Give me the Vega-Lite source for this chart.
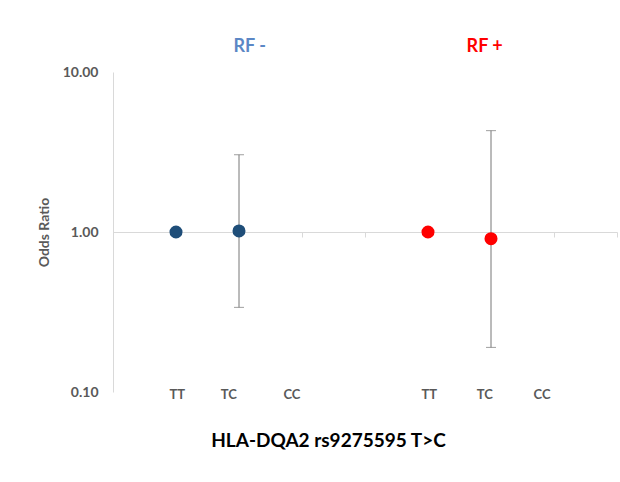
{
  "$schema": "https://vega.github.io/schema/vega-lite/v6.json",
  "width": 504,
  "height": 320,
  "autosize": {"type": "none"},
  "padding": {"left": 113, "top": 72, "right": 3, "bottom": 90},
  "background": "white",
  "config": {"font": "Lato", "view": {"stroke": null}},
  "datasets": {
    "pts": [
      {"group": "RF -", "genotype": "TT", "pos": 1, "or": 1.0},
      {"group": "RF -", "genotype": "TC", "pos": 2, "or": 1.015, "lo": 0.338, "hi": 3.04},
      {"group": "RF +", "genotype": "TT", "pos": 5, "or": 1.0},
      {"group": "RF +", "genotype": "TC", "pos": 6, "or": 0.908, "lo": 0.19, "hi": 4.3}
    ],
    "cats": [
      {"label": "TT", "pos": 1.02, "y": 0.1},
      {"label": "TC", "pos": 1.84, "y": 0.1},
      {"label": "CC", "pos": 2.84, "y": 0.1},
      {"label": "TT", "pos": 5.02, "y": 0.1},
      {"label": "TC", "pos": 5.9, "y": 0.1},
      {"label": "CC", "pos": 6.81, "y": 0.1}
    ],
    "heads": [
      {"label": "RF -", "group": "RF -", "pos": 2.17, "y": 14.3},
      {"label": "RF +", "group": "RF +", "pos": 5.9, "y": 14.3}
    ]
  },
  "layer": [
    {
      "data": {"name": "pts"},
      "transform": [{"filter": "isValid(datum.lo)"}],
      "mark": {"type": "rule", "color": "#767676", "strokeWidth": 1},
      "encoding": {
        "x": {
          "field": "pos", "type": "quantitative",
          "scale": {"domain": [0, 8], "nice": false, "zero": false},
          "axis": {
            "orient": "bottom", "offset": -160, "values": [0, 1, 2, 3, 4, 5, 6, 7, 8],
            "labels": false, "tickSize": 5, "tickColor": "#d9d9d9", "domainColor": "#d9d9d9",
            "grid": false,
            "title": "HLA-DQA2 rs9275595 T>C", "titleX": 215, "titleY": 208,
            "titleBaseline": "middle", "titleAlign": "center", "titleAnchor": null,
            "titleFontSize": 19, "titleFontWeight": "bold", "titleColor": "#000000"
          }
        },
        "y": {
          "field": "lo", "type": "quantitative",
          "scale": {"type": "log", "domain": [0.1, 10], "nice": false},
          "axis": {
            "values": [0.1, 1, 10], "format": ".2f", "ticks": false, "grid": false,
            "domainColor": "#d9d9d9", "labelPadding": 15, "labelFlush": false,
            "labelFontWeight": "bold", "labelFontSize": 14, "labelColor": "#595959",
            "title": "Odds Ratio", "titleFontSize": 14, "titleFontWeight": "bold",
            "titleColor": "#595959", "titleX": -69, "titleY": 160, "titleAngle": -90,
            "titleBaseline": "middle", "titleAlign": "center", "titleAnchor": null
          }
        },
        "y2": {"field": "hi"}
      }
    },
    {
      "data": {"name": "pts"},
      "transform": [{"filter": "isValid(datum.lo)"}],
      "mark": {"type": "tick", "orient": "horizontal", "color": "#767676", "size": 10, "thickness": 1},
      "encoding": {
        "x": {"field": "pos", "type": "quantitative"},
        "y": {"field": "lo", "type": "quantitative"}
      }
    },
    {
      "data": {"name": "pts"},
      "transform": [{"filter": "isValid(datum.hi)"}],
      "mark": {"type": "tick", "orient": "horizontal", "color": "#767676", "size": 10, "thickness": 1},
      "encoding": {
        "x": {"field": "pos", "type": "quantitative"},
        "y": {"field": "hi", "type": "quantitative"}
      }
    },
    {
      "data": {"name": "pts"},
      "mark": {"type": "point", "filled": true, "opacity": 1, "size": 170},
      "encoding": {
        "x": {"field": "pos", "type": "quantitative"},
        "y": {"field": "or", "type": "quantitative"},
        "color": {
          "field": "group", "type": "nominal",
          "scale": {"domain": ["RF -", "RF +"], "range": ["#1f4e79", "#ff0000"]},
          "legend": null
        }
      }
    },
    {
      "data": {"name": "cats"},
      "mark": {"type": "text", "fontWeight": "bold", "fontSize": 13, "color": "#595959", "baseline": "middle", "dy": 3},
      "encoding": {
        "x": {"field": "pos", "type": "quantitative"},
        "y": {"field": "y", "type": "quantitative"},
        "text": {"field": "label"}
      }
    },
    {
      "data": {"name": "heads"},
      "mark": {"type": "text", "fontWeight": "bold", "fontSize": 18, "baseline": "middle"},
      "encoding": {
        "x": {"field": "pos", "type": "quantitative"},
        "y": {"field": "y", "type": "quantitative"},
        "text": {"field": "label"},
        "color": {
          "field": "group", "type": "nominal",
          "scale": {"domain": ["RF -", "RF +"], "range": ["#5b87c5", "#ff0000"]},
          "legend": null
        }
      }
    }
  ],
  "resolve": {"scale": {"color": "independent"}}
}
